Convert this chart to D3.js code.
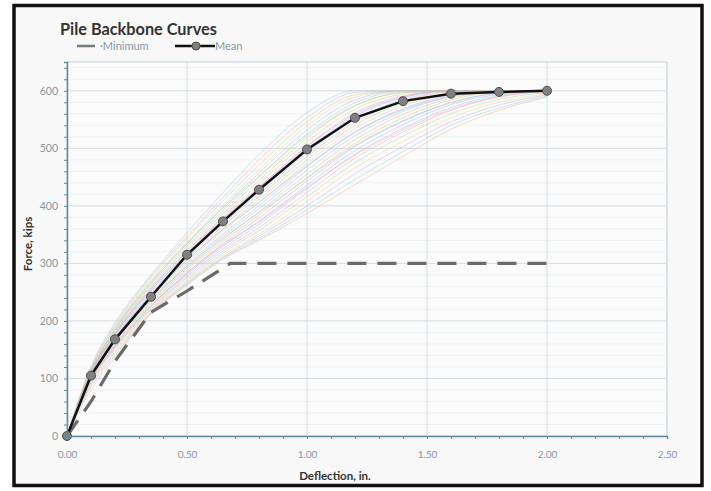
<!DOCTYPE html>
<html>
<head>
<meta charset="utf-8">
<script src="https://d3js.org/d3.v7.min.js"></script>
<style>
  body { margin:0; background:#fff; }
  text { font-family: Lato, "Open Sans", sans-serif; }
</style>
</head>
<body>
  <div id="my_dataviz"></div>
  <script>
    // deflection stations (in.) shared by the individual pile curves
    var deflection = [0, 0.1, 0.2, 0.35, 0.5, 0.65, 0.8, 1.0, 1.2, 1.4, 1.6, 1.8, 2.0];

    // force (kips) of each pile at the stations above
    var pileCurves = [
      [0,121,197,280,353,423,489,562,600,600,600,600,600],
      [0,118,193,277,347,415,480,553,597,600,600,600,600],
      [0,117,190,273,343,409,471,546,593,600,600,600,600],
      [0,115,187,269,337,402,463,539,589,600,600,600,600],
      [0,114,185,266,334,398,457,532,584,600,600,600,600],
      [0,113,183,263,330,392,450,525,579,599,600,600,600],
      [0,112,181,260,326,387,444,518,574,597,600,600,600],
      [0,111,179,257,322,382,438,511,568,594,600,600,600],
      [0,110,177,254,318,377,432,504,562,591,600,600,600],
      [0,109,176,252,316,373,427,498,556,588,600,600,600],
      [0,108,174,249,312,369,421,492,550,585,599,600,600],
      [0,107,172,246,309,365,416,486,545,582,598,600,600],
      [0,106,170,243,305,360,411,480,540,578,596,600,600],
      [0,105,168,241,302,356,406,474,534,574,594,600,600],
      [0,104,166,238,298,351,400,468,528,569,592,600,600],
      [0,103,165,235,295,347,395,462,522,564,590,600,600],
      [0,102,163,232,291,342,390,455,515,559,587,599,600],
      [0,101,161,230,288,338,384,449,509,553,584,598,600],
      [0,100,159,227,284,334,379,443,503,547,580,596,600],
      [0,99,157,225,281,330,373,436,496,541,576,594,600],
      [0,98,155,222,278,326,368,430,490,535,571,592,600],
      [0,97,153,220,275,322,362,423,483,528,566,589,599],
      [0,95,150,218,271,318,357,416,475,521,560,585,597],
      [0,93,147,216,268,314,351,408,466,512,553,580,595],
      [0,90,144,214,266,311,347,400,456,503,546,575,593],
      [0,86,140,213,264,309,343,393,446,494,540,570,591],
      [0,80,136,212,262,307,340,387,437,486,533,566,589],
      [0,112,186,268,335,396,452,522,574,597,600,600,600],
      [0,108,178,256,321,379,433,503,559,589,600,600,600],
      [0,104,170,245,306,359,406,470,528,567,590,600,600],
      [0,101,163,236,294,344,388,448,505,548,579,596,600],
      [0,96,154,226,283,332,372,432,488,532,568,590,599]
    ];

    var meanX = [0, 0.1, 0.2, 0.35, 0.5, 0.65, 0.8, 1.0, 1.2, 1.4, 1.6, 1.8, 2.0];
    var meanY = [0, 105, 168, 242, 315, 373, 428, 498, 553, 582, 595, 598, 600];

    var minX = [0, 0.1, 0.2, 0.35, 0.5, 0.68, 2.0];
    var minY = [0, 60, 130, 215, 252, 300, 300];

    var xTickValues = [0, 0.5, 1.0, 1.5, 2.0, 2.5];
    var yTickValues = [0, 100, 200, 300, 400, 500, 600];

    var pileColors = ["#9ecae1","#f4a6b7","#a8dba8","#f7d08a","#c5b0e6",
                      "#8fd3d8","#f6b48f","#b5d98a","#e8a0d0","#a0b8f0"];

    var W = 711, H = 491;
    var margin = {top:62, right:44, bottom:55, left:67},
        width = W - margin.left - margin.right,
        height = H - margin.top - margin.bottom;

    var svg = d3.select("#my_dataviz")
      .append("svg")
      .attr("width", W)
      .attr("height", H);

    // outer frame
    svg.append("rect")
      .attr("x", 14).attr("y", 5.5)
      .attr("width", 688).attr("height", 480)
      .style("fill", "#f8f8f8")
      .style("stroke", "#111")
      .style("stroke-width", 3.5);

    var g = svg.append("g")
      .attr("transform", "translate(" + margin.left + "," + margin.top + ")");

    var x = d3.scaleLinear().domain([0, 2.5]).range([0, width]);
    var y = d3.scaleLinear().domain([0, 650]).range([height, 0]);

    g.append("rect")
      .attr("width", width).attr("height", height)
      .style("fill", "#fbfbfb")
      .style("stroke", "#c2d2da");

    // minor horizontal grid
    g.selectAll(".minorGrid")
      .data(d3.range(20, 650, 20).filter(function(d){ return d % 100 != 0; }))
      .enter().append("line")
      .attr("x1", 0).attr("x2", width)
      .attr("y1", function(d){ return y(d); })
      .attr("y2", function(d){ return y(d); })
      .style("stroke", "#eef2f4");

    g.selectAll(".hGrid")
      .data(yTickValues.slice(1))
      .enter().append("line")
      .attr("x1", 0).attr("x2", width)
      .attr("y1", function(d){ return y(d); })
      .attr("y2", function(d){ return y(d); })
      .style("stroke", "#d2dde3");

    g.selectAll(".vGrid")
      .data(xTickValues.slice(1))
      .enter().append("line")
      .attr("y1", 0).attr("y2", height)
      .attr("x1", function(d){ return x(d); })
      .attr("x2", function(d){ return x(d); })
      .style("stroke", "#d2dde3");

    // individual pile curves
    var pileLine = d3.line()
      .x(function(d, i){ return x(deflection[i]); })
      .y(function(d){ return y(d); })
      .curve(d3.curveMonotoneX);

    g.selectAll(".pile")
      .data(pileCurves)
      .enter().append("path")
      .attr("d", pileLine)
      .style("fill", "none")
      .style("stroke", function(d, i){ return pileColors[i % pileColors.length]; })
      .style("stroke-width", 1)
      .style("opacity", 0.5);

    // minimum curve
    var minLine = d3.line()
      .x(function(d, i){ return x(minX[i]); })
      .y(function(d){ return y(d); });

    g.append("path")
      .attr("d", minLine(minY))
      .style("fill", "none")
      .style("stroke", "#6a6a6a")
      .style("stroke-width", 3.2)
      .style("stroke-dasharray", "19,11");

    // mean curve
    var meanLine = d3.line()
      .x(function(d, i){ return x(meanX[i]); })
      .y(function(d){ return y(d); });

    g.append("path")
      .attr("d", meanLine(meanY))
      .style("fill", "none")
      .style("stroke", "#111")
      .style("stroke-width", 2.5);

    g.selectAll(".meanPt")
      .data(meanY)
      .enter().append("circle")
      .attr("cx", function(d, i){ return x(meanX[i]); })
      .attr("cy", function(d){ return y(d); })
      .attr("r", 4.5)
      .style("fill", "#808080")
      .style("stroke", "#4d4d4d")
      .style("stroke-width", 1);

    // axes
    var axisColor = "#5e8c9c";
    var xAxis = g.append("g")
      .attr("transform", "translate(0," + height + ")")
      .call(d3.axisBottom(x).tickValues(d3.range(0, 2.51, 0.1)).tickSize(3)
        .tickFormat(function(d){ return xTickValues.some(function(v){ return Math.abs(v-d) < 1e-6; }) ? d3.format(".2f")(d) : ""; }));
    xAxis.select(".domain").style("stroke", axisColor).style("stroke-width", 1.5);
    xAxis.selectAll(".tick line").style("stroke", axisColor);
    xAxis.selectAll("text")
      .attr("dy", "1.6em")
      .style("font-size", "10px")
      .style("fill", "#8797a0");

    var yAxis = g.append("g")
      .call(d3.axisLeft(y).tickValues(d3.range(0, 651, 20)).tickSize(3)
        .tickFormat(function(d){ return d % 100 == 0 ? d : ""; }));
    yAxis.select(".domain").style("stroke", axisColor).style("stroke-width", 1.5);
    yAxis.selectAll(".tick line").style("stroke", axisColor);
    yAxis.selectAll("text")
      .attr("x", -9)
      .style("font-size", "10.5px")
      .style("fill", "#8797a0");

    // axis titles
    svg.append("text")
      .attr("x", margin.left + width / 2 - 32)
      .attr("y", 480)
      .attr("text-anchor", "middle")
      .style("font-size", "11.5px")
      .style("font-weight", "bold")
      .style("fill", "#333")
      .text("Deflection, in.");

    svg.append("text")
      .attr("transform", "translate(32,244) rotate(-90)")
      .attr("text-anchor", "middle")
      .style("font-size", "11.5px")
      .style("font-weight", "bold")
      .style("fill", "#333")
      .text("Force, kips");

    // title + legend
    svg.append("text")
      .attr("x", 60).attr("y", 35)
      .style("font-size", "16.3px")
      .style("font-weight", "bold")
      .style("fill", "#333")
      .text("Pile Backbone Curves");

    svg.append("line")
      .attr("x1", 77).attr("x2", 95).attr("y1", 46).attr("y2", 46)
      .style("stroke", "#7a7a7a").style("stroke-width", 2.5);
    svg.append("text")
      .attr("x", 100).attr("y", 50)
      .style("font-size", "11px")
      .style("fill", "#8797a0")
      .text("\u00b7Minimum");

    svg.append("line")
      .attr("x1", 175).attr("x2", 215).attr("y1", 46).attr("y2", 46)
      .style("stroke", "#111").style("stroke-width", 2.5);
    svg.append("circle")
      .attr("cx", 196).attr("cy", 46).attr("r", 4)
      .style("fill", "#808080").style("stroke", "#4d4d4d");
    svg.append("text")
      .attr("x", 215).attr("y", 50)
      .style("font-size", "11px")
      .style("fill", "#8797a0")
      .text("Mean");
  </script>
</body>
</html>
